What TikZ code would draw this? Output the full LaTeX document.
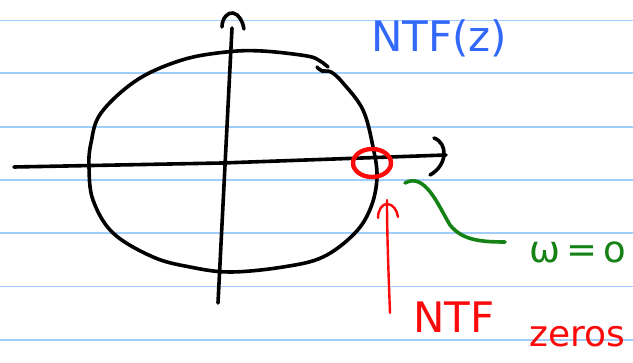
\documentclass[tikz,border=0pt]{standalone}
\usepackage{fontspec}
\setmainfont{DejaVu Sans}
\definecolor{ruleblue}{RGB}{160,205,250}
\definecolor{inkblue}{RGB}{50,105,250}
\definecolor{inkred}{RGB}{250,10,10}
\definecolor{inkgreen}{RGB}{20,130,20}
\tikzset{
  ruleline/.style={ruleblue, line width=1.6pt},
  ink/.style={black, line width=3.6pt, line cap=round, line join=round},
  redink/.style={inkred, line width=4.4pt, line cap=round, line join=round},
  redthin/.style={inkred, line width=2.4pt, line cap=round, line join=round},
  greenink/.style={inkgreen, line width=3.6pt, line cap=round, line join=round},
  label/.style={inner sep=0pt, anchor=base west}
}
\begin{document}
\begin{tikzpicture}[x=1pt,y=-1pt]
\useasboundingbox (0,0) rectangle (633,363);
\fill[white] (0,0) rectangle (633,363);
% ruled lines
\foreach \yy in {20.7,73.3,127.3,180,233.3,286.7,340}
  \draw[ruleline] (0,\yy) -- (633,\yy);
% axes
\coordinate (hl) at (14,167);
\coordinate (hm) at (222,163);
\coordinate (hr) at (446,155);
\draw[ink] (hl) -- (hm) -- (hr);
\draw[ink] (434,138) .. controls (448,143) and (448,165) .. (430,175);
\coordinate (vb) at (218,303);
\coordinate (vt) at (232,28);
\draw[ink] (vb) -- (vt);
\draw[ink] (222,27) .. controls (222,18) and (228,12) .. (233,13) .. controls (239,14) and (243,22) .. (244,29);
% unit circle (hand drawn)
\draw[ink] plot[smooth, tension=0.6] coordinates {(328,67) (320,61) (307,56) (262,51) (226,52) (182,60) (137,80) (101,113) (91,143) (89,167) (93,200) (113,233) (153,257) (190,267) (230,272) (283,267) (323,257) (355,233) (371,207) (377,177) (373,147) (363,110) (343,83) (331,72) (322,71) (317,67)};
% red zero marker
\coordinate (zc) at (372,163);
\draw[redink] (zc) ellipse [x radius=19, y radius=14];
% red arrow
\coordinate (ab) at (390,313);
\coordinate (at) at (387,200);
\draw[redthin] (ab) .. controls (388,260) and (387,230) .. (at);
\draw[redthin] (378,218) .. controls (378,210) and (382,204) .. (387,204) .. controls (393,204) and (397,210) .. (398,217);
% green connector
\coordinate (gs) at (405,183);
\coordinate (ge) at (505,242);
\draw[greenink] (gs) .. controls (425,172) and (438,205) .. (450,225) .. controls (462,240) and (480,242) .. (ge);
% texts
\node[label, text=inkblue, font=\fontsize{42}{42}\selectfont] (ntfz) at (371,52) {NTF(z)};
\node[label, text=inkgreen, font=\fontsize{37}{37}\selectfont] (w0) at (529,263) {ω\,=\,o};
\node[label, text=inkred, font=\fontsize{42}{42}\selectfont] (ntf) at (413,333) {NTF};
\node[label, text=inkred, font=\fontsize{36}{36}\selectfont] (zeros) at (529,347) {zeros};
\end{tikzpicture}
\end{document}
